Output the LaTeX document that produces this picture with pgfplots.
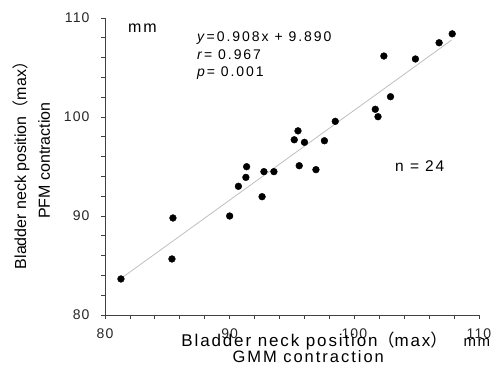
\documentclass[border=0pt]{standalone}
\usepackage{fontspec}
\setmainfont{Liberation Sans}
\newfontfamily\cjk{Noto Sans CJK JP}
\usepackage{pgfplots}
\pgfplotsset{compat=1.18}
\begin{document}
\begin{tikzpicture}
\begin{axis}[
  scale only axis, width=374pt, height=297pt,
  xmin=80, xmax=110, ymin=80, ymax=110,
  axis lines=left,
  axis line style={color=black!75, line width=0.8pt, -},
  xtick={80,90,100,110}, ytick={80,90,100,110},
  minor xtick={82,84,86,88,92,94,96,98,102,104,106,108},
  minor ytick={82,84,86,88,92,94,96,98,102,104,106,108},
  tick align=outside,
  tick style={black!75, line width=0.8pt},
  major tick length=4pt, minor tick length=4pt,
  tick label style={font=\fontsize{14}{16}\selectfont\addfontfeatures{LetterSpace=8}, text=black!85},
  /pgf/number format/assume math mode=true,
  xticklabel style={yshift=-6pt},
  yticklabel style={xshift=-8pt},
  clip=false,
]
\coordinate (sw) at (rel axis cs:0,0);
\coordinate (ne) at (rel axis cs:1,1);
\addplot[gray!50, line width=0.8pt] coordinates {(81.47,83.86) (107.8,107.77)};
\addplot[only marks, mark=*, mark size=3.4pt, black] coordinates {
(81.28,83.64) (85.45,89.8) (85.37,85.66) (90.0,90.0) (90.7,93.0)
(107.85,108.4) (106.8,107.5) (104.9,105.86) (102.37,106.16) (102.9,102.05)
(101.68,100.78) (101.9,100.03) (98.47,99.56) (95.48,98.6) (95.18,97.7)
(96.0,97.44) (97.6,97.6) (95.58,95.08) (96.92,94.68) (93.55,94.48)
(92.75,94.48) (91.36,94.98) (91.3,93.9) (92.6,91.95)
};
\node[font=\fontsize{16}{18}\selectfont\addfontfeatures{LetterSpace=12}] at (axis cs:83.0,109) {mm};
\node[anchor=west, align=left, font=\fontsize{14}{17.5}\selectfont\addfontfeatures{LetterSpace=14}] at (axis cs:87.1,106.2)
  {\textit{y}=0.908x + 9.890\\\textit{r}= 0.967\\\textit{p}= 0.001};
\node[font=\fontsize{15.5}{17}\selectfont\addfontfeatures{LetterSpace=12}] at (axis cs:105.25,95.05) {n = 24};
\node[font=\fontsize{17}{19}\selectfont\addfontfeatures{LetterSpace=11}] at (axis cs:96.8,77.35) {Bladder neck position{\cjk （}max{\cjk ）}};
\node[font=\fontsize{16.5}{18}\selectfont\addfontfeatures{LetterSpace=12}] at (axis cs:96.3,75.75) {GMM contraction};
\node[font=\fontsize{15}{17}\selectfont\addfontfeatures{LetterSpace=10}] at (axis cs:109.83,77.2) {mm};
\node[rotate=90, font=\fontsize{16}{18}\selectfont] at (axis cs:73.26,95.5) {Bladder neck position{\cjk （}max{\cjk ）}};
\node[rotate=90, font=\fontsize{16}{18}\selectfont] at (axis cs:75.11,95.6) {PFM contraction};
\end{axis}
\pgfresetboundingbox
\path ([shift={(-105pt,-51pt)}]sw) rectangle ([shift={(15pt,18pt)}]ne);
\end{tikzpicture}
\end{document}
